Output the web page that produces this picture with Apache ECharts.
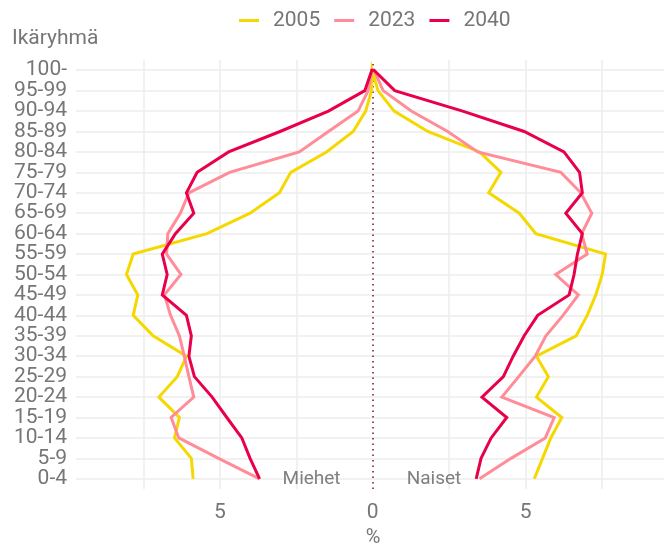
<!DOCTYPE html>
<html>
<head>
<meta charset="utf-8">
<script src="https://cdn.jsdelivr.net/npm/echarts@6/dist/echarts.min.js"></script>
<style>
	html, body { margin: 0; padding: 0; background: #fff; }
	#chart { width: 664px; height: 543px; }
</style>
</head>
<body>
<div id="chart"></div>
<script>
// ikäryhmät alhaalta ylös
const ageGroups = ['0-4', '5-9', '10-14', '15-19', '20-24', '25-29', '30-34', '35-39', '40-44', '45-49',
	'50-54', '55-59', '60-64', '65-69', '70-74', '75-79', '80-84', '85-89', '90-94', '95-99', '100-'];

const years = ['2005', '2023', '2040'];
const colors = ['#f5d800', '#ff8c97', '#e8004a'];

// osuus väestöstä (%), miehet
const men2005 = [5.87, 5.93, 6.48, 6.32, 6.99, 6.39, 6.09, 7.18, 7.83, 7.68, 8.05, 7.83, 5.42, 4.01, 3.05, 2.68, 1.51, 0.64, 0.23, 0.04, 0.02];
const men2023 = [3.70, 5.04, 6.34, 6.59, 5.85, 6.01, 6.16, 6.32, 6.61, 6.81, 6.27, 6.74, 6.70, 6.29, 6.01, 4.68, 2.40, 1.45, 0.48, 0.15, 0.03];
const men2040 = [3.70, 4.01, 4.28, 4.77, 5.25, 5.83, 6.01, 5.93, 6.09, 6.88, 6.72, 6.88, 6.45, 5.85, 6.09, 5.74, 4.71, 3.03, 1.45, 0.26, 0.03];

// naiset
const women2005 = [5.28, 5.55, 5.82, 6.18, 5.35, 5.74, 5.35, 6.65, 7.01, 7.29, 7.50, 7.61, 5.33, 4.79, 3.79, 4.19, 3.49, 1.80, 0.70, 0.17, 0.03];
const women2023 = [3.49, 4.52, 5.64, 5.93, 4.22, 4.77, 5.31, 5.66, 6.22, 6.72, 5.98, 7.01, 6.83, 7.16, 6.80, 6.15, 3.43, 2.45, 1.26, 0.34, 0.04];
const women2040 = [3.38, 3.54, 3.87, 4.38, 3.57, 4.27, 4.59, 4.95, 5.39, 6.42, 6.58, 6.69, 6.85, 6.31, 6.85, 6.76, 6.25, 4.95, 2.94, 0.72, 0.04];

const xTickLabels = [-5, 0, 5];
const xGridValues = [-7.5, -5, -2.5, 2.5, 5, 7.5];
const sideLabels = [['Miehet', -2], ['Naiset', 2]];

const FONT = 'Roboto';
const TEXT_COLOR = '#767676';
const GRID_COLOR = '#ededed';

// miehet vasemmalle (negatiivinen), naiset oikealle, viiva kulkee huipun kautta
function pyramidLine(men, women)
{
	let pts = [];
	men.forEach((v, i) => pts.push([-v, i]));
	for(let i = women.length - 1; i >= 0; i--)
		pts.push([women[i], i]);
	return pts;
}

const lines = [
	pyramidLine(men2005, women2005),
	pyramidLine(men2023, women2023),
	pyramidLine(men2040, women2040)
];

let chart = echarts.init(document.getElementById('chart'));

let series = [{
	// ruudukko
	type: 'line',
	data: [],
	silent: true,
	z: 1,
	markLine: {
		silent: true,
		symbol: 'none',
		label: {show: false},
		animation: false,
		lineStyle: {color: GRID_COLOR, width: 1.5, type: 'solid'},
		data: xGridValues.map(v => ({xAxis: v}))
			.concat(ageGroups.map((a, i) => ({yAxis: i})))
	}
}, {
	// nollaviiva
	type: 'line',
	data: [],
	silent: true,
	z: 3,
	markLine: {
		silent: true,
		symbol: 'none',
		label: {show: false},
		animation: false,
		lineStyle: {color: '#6e1535', width: 1.5, type: [1.5, 4]},
		data: [{xAxis: 0}]
	}
}];

years.forEach((y, i) => {
	series.push({
		name: y,
		type: 'line',
		data: lines[i],
		symbol: 'none',
		z: 5 + i,
		color: colors[i],
		lineStyle: {width: 3, color: colors[i], join: 'miter'}
	});
});

chart.setOption({
	animation: false,
	backgroundColor: '#fff',
	textStyle: {fontFamily: FONT},
	title: {
		text: 'Ikäryhmä',
		left: 7,
		top: 23,
		textStyle: {fontFamily: FONT, fontSize: 21, fontWeight: 'normal', color: TEXT_COLOR}
	},
	legend: {
		data: years,
		left: 234,
		top: 5,
		icon: 'rect',
		itemWidth: 20,
		itemHeight: 3,
		itemGap: 14,
		textStyle: {fontFamily: FONT, fontSize: 21, color: TEXT_COLOR, padding: [0, 0, 0, 9]}
	},
	grid: {left: 76, right: 0, top: 60, bottom: 54, containLabel: false, outerBoundsMode: 'none'},
	xAxis: {
		type: 'value',
		min: -9.70,
		max: 9.52,
		name: '%',
		nameLocation: 'middle',
		nameGap: 33,
		nameTextStyle: {fontFamily: FONT, fontSize: 20, color: TEXT_COLOR, padding: [0, 0, 0, 6]},
		axisLine: {show: false},
		axisTick: {show: false},
		splitLine: {show: false},
		axisLabel: {
			customValues: xTickLabels,
			formatter: v => String(Math.abs(v)),
			fontFamily: FONT,
			fontSize: 21,
			color: TEXT_COLOR,
			margin: 13
		}
	},
	yAxis: {
		type: 'category',
		data: ageGroups,
		boundaryGap: true,
		axisLine: {show: false},
		axisTick: {show: false},
		splitLine: {show: false},
		axisLabel: {
			fontFamily: FONT,
			fontSize: 21,
			color: TEXT_COLOR,
			margin: 9,
			interval: 0
		}
	},
	series: series
});

// Miehet / Naiset -tekstit alimmalle riville akselin mukaan
chart.setOption({
	graphic: sideLabels.map(s => {
		let p = chart.convertToPixel({gridIndex: 0}, [s[1], 0]);
		return {
			type: 'text',
			x: p[0],
			y: p[1],
			z: 10,
			silent: true,
			style: {
				text: s[0],
				fill: '#7f7f7f',
				font: '19px ' + FONT,
				align: 'center',
				verticalAlign: 'middle'
			}
		};
	})
});
</script>
</body>
</html>
